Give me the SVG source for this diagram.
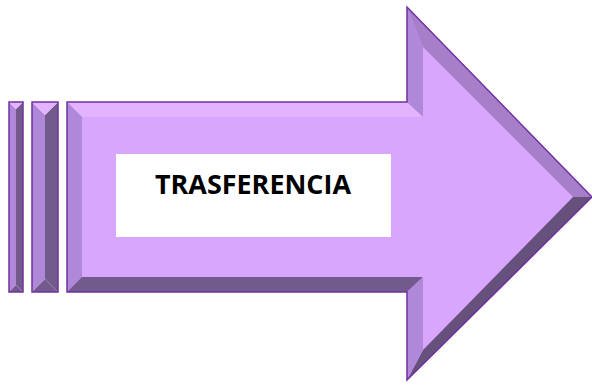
<svg xmlns="http://www.w3.org/2000/svg" width="592" height="385" viewBox="0 0 592 385">
<style>
.face{fill:#D9A6FD}
.lt{fill:#E3B3FF}
.ml{fill:#B088DA}
.md{fill:#A67EC9}
.dk{fill:#735A8C}
.dd{fill:#66507C}
.ol{fill:none;stroke:#7030A0;stroke-width:1.5;stroke-linejoin:miter}
.lbl{font-family:"Open Sans","Liberation Sans",Arial,sans-serif;font-weight:bold;font-size:26px;fill:#000}
</style>
<rect width="592" height="385" fill="#fff"/>
<g id="bar1">
<polygon class="ml" points="9,102 16,109 16,285 9,292"/>
<polygon class="dk" points="23,102 16,109 16,285 23,292"/>
<polygon class="lt" points="9,102 23,102 16,109"/>
<polygon class="dk" points="9,292 23,292 16,285"/>
<rect class="ol" x="9" y="102" width="14" height="190"/>
</g>
<g id="bar2">
<polygon class="ml" points="32,102 45,115 45,279 32,292"/>
<polygon class="dk" points="58,102 45,115 45,279 58,292"/>
<polygon class="lt" points="32,102 58,102 45,115"/>
<polygon class="dk" points="32,292 58,292 45,279"/>
<rect class="ol" x="32" y="102" width="26" height="190"/>
</g>
<g id="arrow">
<polygon class="face" points="67,102 407,102 407,7 592,197 407,380 407,292 67,292"/>
<polygon class="lt" points="67,102 407,102 423,117 82,117"/>
<polygon class="ml" points="67,102 82,117 82,277 67,292"/>
<polygon class="dk" points="67,292 82,277 423,277 407,292"/>
<polygon class="ml" points="407,102 407,7 423,47 423,117"/>
<polygon class="md" points="407,7 592,197 573,197 423,47"/>
<polygon class="dd" points="592,197 407,380 423,350 573,197"/>
<polygon class="ml" points="407,380 407,292 423,277 423,350"/>
<polygon class="ol" points="67,102 407,102 407,7 592,197 407,380 407,292 67,292"/>
</g>
<g id="label">
<rect x="116" y="154" width="275" height="83" fill="#fff"/>
<text class="lbl" x="155" y="194" textLength="196" lengthAdjust="spacingAndGlyphs">TRASFERENCIA</text>
</g>
</svg>
